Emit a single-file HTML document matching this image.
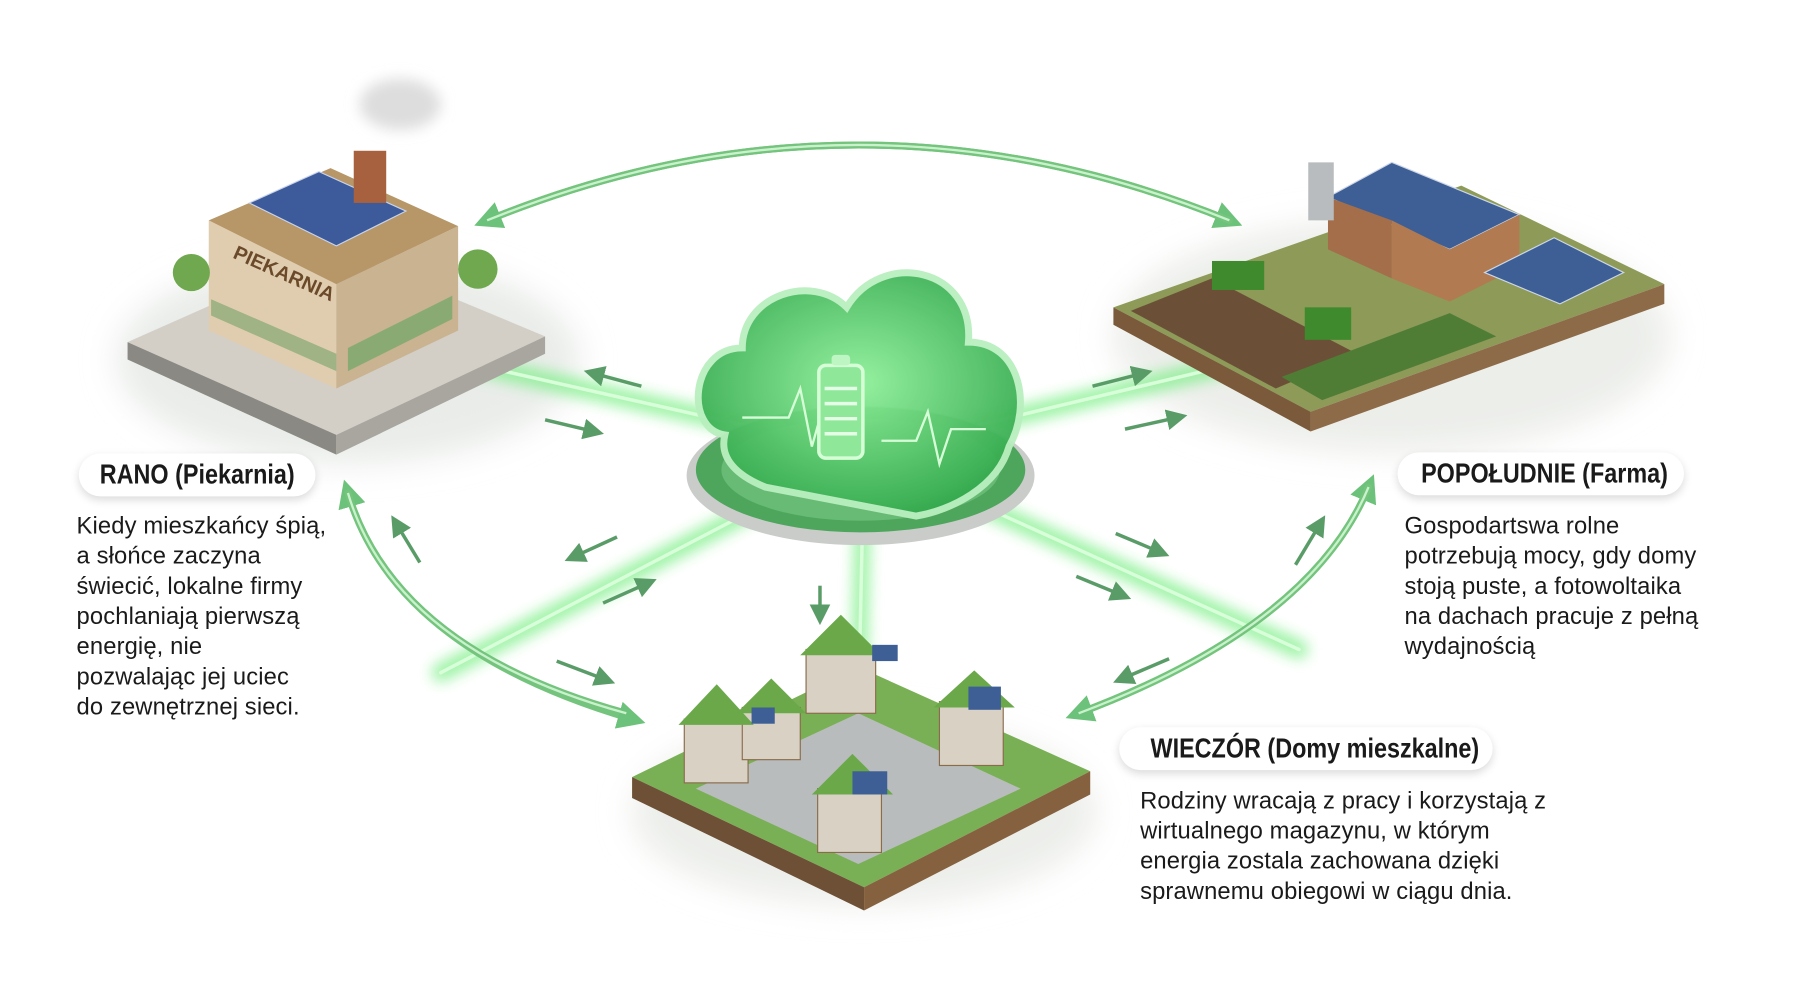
<!DOCTYPE html>
<html><head><meta charset="utf-8">
<style>
html,body{margin:0;padding:0;background:#fff;width:1800px;height:1000px;overflow:hidden}
#w{position:absolute;left:0;top:0;width:1552px;height:862px;transform:scale(1.1598);transform-origin:0 0;background:#fff}
.pill{position:absolute;background:#fff;border-radius:20px;box-shadow:0 3px 8px rgba(0,0,0,.15);font-family:"Liberation Sans",sans-serif;font-weight:bold;font-size:24px;color:#1a1a1a;text-align:center;line-height:37px;height:37px;white-space:nowrap;overflow:visible}
.pill span{display:inline-block;transform:scaleX(.84);transform-origin:50% 50%}
.txt{position:absolute;font-family:"Liberation Sans",sans-serif;font-size:20.5px;line-height:26px;color:#1a1a1a;white-space:nowrap;letter-spacing:.1px}
svg{position:absolute;left:0;top:0}
</style></head><body><div id="w">
<svg width="1552" height="862" viewBox="0 0 1552 862">
<defs>
<filter id="bl" x="-50%" y="-50%" width="200%" height="200%"><feGaussianBlur stdDeviation="6"/></filter>
<filter id="bl2" x="-50%" y="-50%" width="200%" height="200%"><feGaussianBlur stdDeviation="14"/></filter>
<radialGradient id="cg" cx="50%" cy="45%" r="60%"><stop offset="0" stop-color="#8ff09a"/><stop offset="1" stop-color="#2fa64a"/></radialGradient>
<marker id="ah" markerWidth="6" markerHeight="6" refX="3" refY="3" orient="auto" markerUnits="strokeWidth"><path d="M0,0 L6,3 L0,6 Z" fill="#5a9c68"/></marker>
<marker id="bh" markerWidth="4" markerHeight="4" refX="2" refY="2" orient="auto" markerUnits="strokeWidth"><path d="M0,0 L4,2 L0,4 Z" fill="#6cc27a"/></marker>
</defs>
<ellipse cx="300" cy="310" rx="200" ry="90" fill="#e9ece9" filter="url(#bl2)"/>
<ellipse cx="1200" cy="290" rx="240" ry="100" fill="#eceeea" filter="url(#bl2)"/>
<ellipse cx="745" cy="700" rx="200" ry="80" fill="#eceeea" filter="url(#bl2)"/>
<g stroke="#7bef86" stroke-linecap="round" opacity=".75" filter="url(#bl)">
<line x1="745" y1="390" x2="390" y2="310" stroke-width="16"/>
<line x1="745" y1="390" x2="1080" y2="310" stroke-width="16"/>
<line x1="745" y1="390" x2="380" y2="580" stroke-width="16"/>
<line x1="745" y1="390" x2="1120" y2="560" stroke-width="16"/>
<line x1="745" y1="390" x2="740" y2="620" stroke-width="14"/>
</g>
<g stroke="#d8ffd9" stroke-linecap="round">
<line x1="745" y1="390" x2="390" y2="310" stroke-width="3"/>
<line x1="745" y1="390" x2="1080" y2="310" stroke-width="3"/>
<line x1="745" y1="390" x2="380" y2="580" stroke-width="3"/>
<line x1="745" y1="390" x2="1120" y2="560" stroke-width="3"/>
<line x1="745" y1="390" x2="740" y2="620" stroke-width="3"/>
</g>
<g fill="none" stroke="#74c47d" stroke-width="6" stroke-linecap="round">
<path d="M420,190 Q740,60 1060,190" marker-end="url(#bh)" />
<path d="M1060,190 Q740,60 420,190" marker-end="url(#bh)"/>
<path d="M540,615 Q340,560 300,425" marker-end="url(#bh)"/>
<path d="M300,425 Q340,560 545,620" marker-end="url(#bh)"/>
<path d="M930,615 Q1130,540 1180,420" marker-end="url(#bh)"/>
<path d="M1180,420 Q1130,540 930,615" marker-end="url(#bh)"/>
</g>
<g fill="none" stroke="#c9f2cc" stroke-width="2">
<path d="M420,190 Q740,60 1060,190"/><path d="M540,615 Q340,560 300,425"/><path d="M930,615 Q1130,540 1180,420"/>
</g>
<g stroke="#5a9c68" stroke-width="3" fill="none">
<line x1="553" y1="333" x2="512" y2="322" marker-end="url(#ah)"/>
<line x1="470" y1="362" x2="512" y2="372" marker-end="url(#ah)"/>
<line x1="942" y1="333" x2="985" y2="322" marker-end="url(#ah)"/>
<line x1="970" y1="370" x2="1015" y2="360" marker-end="url(#ah)"/>
<line x1="532" y1="463" x2="495" y2="480" marker-end="url(#ah)"/>
<line x1="520" y1="520" x2="558" y2="503" marker-end="url(#ah)"/>
<line x1="962" y1="460" x2="1000" y2="476" marker-end="url(#ah)"/>
<line x1="928" y1="497" x2="967" y2="513" marker-end="url(#ah)"/>
<line x1="707" y1="505" x2="707" y2="530" marker-end="url(#ah)"/>
<line x1="362" y1="485" x2="342" y2="452" marker-end="url(#ah)"/>
<line x1="480" y1="570" x2="522" y2="586" marker-end="url(#ah)"/>
<line x1="1117" y1="487" x2="1138" y2="452" marker-end="url(#ah)"/>
<line x1="1008" y1="568" x2="968" y2="585" marker-end="url(#ah)"/>
</g>
<ellipse cx="742" cy="410" rx="150" ry="60" fill="#c9ccc9"/>
<ellipse cx="742" cy="405" rx="142" ry="54" fill="#4ea55c"/>
<ellipse cx="742" cy="405" rx="120" ry="44" fill="#78c983" opacity=".6"/>
<path d="M625,375 C590,370 595,300 640,300 C640,255 700,235 730,265 C760,215 840,230 835,295 C880,295 890,350 870,385 C860,420 820,440 790,445 L660,420 C635,410 620,395 625,375 Z" fill="url(#cg)" stroke="#b9efbf" stroke-width="6" opacity=".95"/>
<path d="M640,360 L680,360 L690,335 L700,385 L710,350 L720,360" fill="none" stroke="#d6ffd8" stroke-width="2"/>
<path d="M760,380 L790,380 L800,355 L810,400 L820,370 L850,370" fill="none" stroke="#d6ffd8" stroke-width="2"/>
<rect x="706" y="315" width="38" height="80" rx="6" fill="#8fe89a" stroke="#d6ffd8" stroke-width="3"/>
<rect x="717" y="306" width="16" height="9" rx="3" fill="#bdf5c3"/>
<g stroke="#e5ffe6" stroke-width="3"><line x1="711" y1="335" x2="739" y2="335"/><line x1="711" y1="348" x2="739" y2="348"/><line x1="711" y1="361" x2="739" y2="361"/><line x1="711" y1="374" x2="739" y2="374"/></g>
<path d="M110,295 L290,375 L470,290 L290,215 Z" fill="#d3cfc7"/>
<path d="M110,295 L290,375 L290,392 L110,310 Z" fill="#8b8983"/>
<path d="M290,375 L470,290 L470,305 L290,392 Z" fill="#a9a6a0"/>
<path d="M180,190 L290,245 L290,335 L180,285 Z" fill="#e0cdb0"/>
<path d="M290,245 L395,195 L395,285 L290,335 Z" fill="#c9b391"/>
<path d="M180,190 L290,245 L395,195 L285,145 Z" fill="#b79668"/>
<path d="M215,175 L290,212 L350,182 L275,148 Z" fill="#3d5b9a" stroke="#c9d4ec" stroke-width="1"/>
<rect x="305" y="130" width="28" height="45" fill="#a7613e"/>
<ellipse cx="345" cy="90" rx="35" ry="22" fill="#ddd" filter="url(#bl)"/>
<path d="M182,258 L290,305 L290,320 L182,272 Z" fill="#5f9a5a" opacity=".5"/>
<path d="M300,300 L390,255 L390,275 L300,320 Z" fill="#6ea766" opacity=".7"/>
<text x="200" y="222" font-family="Liberation Sans" font-weight="bold" font-size="17" fill="#6b4a2a" transform="rotate(24 200 222)">PIEKARNIA</text>
<circle cx="165" cy="235" r="16" fill="#6fa84f"/><circle cx="412" cy="232" r="17" fill="#6fa84f"/>
<path d="M960,265 L1130,355 L1435,245 L1260,160 Z" fill="#8d9a58"/>
<path d="M960,265 L1130,355 L1130,372 L960,280 Z" fill="#7a5a3a"/>
<path d="M1130,355 L1435,245 L1435,262 L1130,372 Z" fill="#8e6b48"/>
<path d="M975,268 L1100,335 L1170,305 L1045,240 Z" fill="#6b5037"/>
<path d="M1105,325 L1140,345 L1290,290 L1250,270 Z" fill="#4f7d36"/>
<path d="M1145,170 L1200,140 L1310,185 L1250,215 Z" fill="#3e5f95" stroke="#ccd6e8"/>
<path d="M1145,170 L1145,215 L1200,240 L1200,190 Z" fill="#a46e4a"/>
<path d="M1200,190 L1250,215 L1310,185 L1310,230 L1250,260 L1200,240 Z" fill="#b27a50"/>
<path d="M1280,235 L1340,205 L1400,235 L1345,262 Z" fill="#3e5f95" stroke="#ccd6e8"/>
<rect x="1128" y="140" width="22" height="50" fill="#b8bcbf"/>
<rect x="1125" y="265" width="40" height="28" fill="#3f8a2d"/><rect x="1045" y="225" width="45" height="25" fill="#3f8a2d"/>
<path d="M545,670 L745,765 L940,665 L740,575 Z" fill="#7ab055"/>
<path d="M545,670 L745,765 L745,785 L545,688 Z" fill="#6d5035"/>
<path d="M745,765 L940,665 L940,685 L745,785 Z" fill="#86613f"/>
<path d="M600,680 L740,745 L880,680 L740,615 Z" fill="#b9bcbc"/>
<g fill="#d9d2c4" stroke="#8a6c4c">
<rect x="590" y="620" width="55" height="55"/><rect x="695" y="560" width="60" height="55"/><rect x="810" y="605" width="55" height="55"/><rect x="705" y="680" width="55" height="55"/><rect x="640" y="610" width="50" height="45"/>
</g>
<g fill="#6aa84a">
<path d="M585,625 L618,590 L650,625 Z"/><path d="M690,565 L725,530 L760,565 Z"/><path d="M805,610 L840,578 L875,610 Z"/><path d="M700,685 L735,650 L770,685 Z"/><path d="M635,615 L665,585 L695,615 Z"/>
</g>
<g fill="#3e5f95"><rect x="648" y="610" width="20" height="14"/><rect x="752" y="556" width="22" height="14"/><rect x="835" y="592" width="28" height="20"/><rect x="735" y="665" width="30" height="20"/></g>
</svg>
<div class="pill" style="left:68px;top:391px;width:204px"><span>RANO (Piekarnia)</span></div>
<div class="txt" style="left:66px;top:441px">Kiedy mieszkańcy śpią,<br>a słońce zaczyna<br>świecić, lokalne firmy<br>pochlaniają pierwszą<br>energię, nie<br>pozwalając jej uciec<br>do zewnętrznej sieci.</div>
<div class="pill" style="left:1205px;top:390px;width:247px"><span>POPOŁUDNIE (Farma)</span></div>
<div class="txt" style="left:1211px;top:441px">Gospodartswa rolne<br>potrzebują mocy, gdy domy<br>stoją puste, a fotowoltaika<br>na dachach pracuje z pełną<br>wydajnością</div>
<div class="pill" style="left:965px;top:627px;width:322px"><span>WIECZÓR (Domy mieszkalne)</span></div>
<div class="txt" style="left:983px;top:678px">Rodziny wracają z pracy i korzystają z<br>wirtualnego magazynu, w którym<br>energia zostala zachowana dzięki<br>sprawnemu obiegowi w ciągu dnia.</div>
</div></body></html>
